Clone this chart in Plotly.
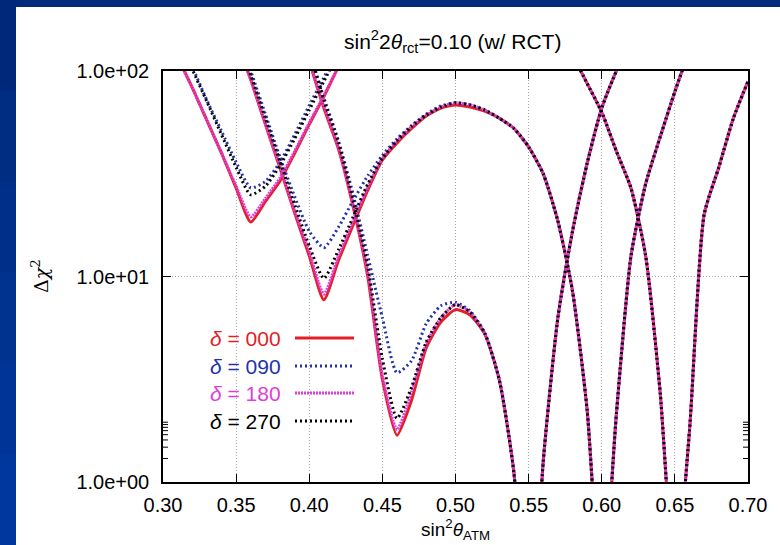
import math
import plotly.graph_objects as go

# sin^2(theta_ATM) sample points for each of the four solution branches
x_branch_a = [0.30, 0.31, 0.32, 0.33, 0.34, 0.35, 0.36, 0.37, 0.38, 0.39, 0.40, 0.41, 0.42, 0.43]
x_branch_b = [0.34, 0.35, 0.36, 0.37, 0.38, 0.39, 0.40, 0.41, 0.42, 0.43, 0.44, 0.45, 0.46, 0.47,
              0.48, 0.49, 0.50, 0.51, 0.52, 0.53, 0.54, 0.55, 0.56, 0.57, 0.58, 0.59, 0.60, 0.61,
              0.62, 0.63, 0.64, 0.65, 0.66, 0.67]
x_branch_c = [0.39, 0.40, 0.41, 0.42, 0.43, 0.44, 0.45, 0.46, 0.47, 0.48, 0.49, 0.50, 0.51, 0.52,
              0.53, 0.54, 0.55, 0.56, 0.57, 0.58, 0.59, 0.60, 0.61, 0.62]
x_branch_d = [0.57, 0.58, 0.59, 0.60, 0.61, 0.62, 0.63, 0.64, 0.65, 0.66, 0.67, 0.68, 0.69, 0.70]

# Delta chi^2 for delta = 0
chi2_000_a = [166, 117, 83, 57.5, 39.8, 26.9, 18.4, 23.2, 29.2, 39.8, 55, 75, 105, 141]
chi2_000_b = [224, 141, 90.6, 55, 33.7, 20.4, 12.6, 7.7, 12, 17.8, 26.3, 36.9, 44.7, 52.5,
              60.3, 66, 68.4, 66.8, 63.8, 58.9, 52.5, 42.7, 31.6, 18.6, 8.5, 2.24, 0.25, 2.14,
              12.6, 28.2, 47.9, 79.4, 126, 190]
chi2_000_c = [200, 112, 66, 41.7, 21.9, 10, 3.16, 1.69, 2.51, 4.5, 6.0, 6.9, 6.5, 5.25,
              3.13, 1.1, 0.1, 1.26, 6.3, 16.6, 35.5, 66, 100, 141]
chi2_000_d = [166, 120, 87, 63, 40.7, 26.9, 12.6, 2.7, 0.32, 1.78, 20, 33.9, 58.9, 89]

# Delta chi^2 for delta = 90
chi2_090_a = [219, 151, 105, 72, 51, 36, 27, 29, 36, 49, 68, 93, 129, 178]
chi2_090_b = [251, 158, 100, 61.7, 38, 24.5, 16.6, 13.8, 17.4, 23.4, 30.9, 38.9, 46.8, 54.3,
              61.7, 67.6, 70, 68.4, 64.6, 58.9, 52.5, 42.7, 31.6, 18.6, 8.5, 2.24, 0.25, 2.14,
              12.6, 28.2, 47.9, 79.4, 126, 190]
chi2_090_c = [224, 126, 74, 45.7, 25.1, 12.6, 6.3, 3.4, 3.9, 5.9, 7.2, 7.5, 6.8, 5.3,
              3.13, 1.1, 0.1, 1.26, 6.3, 16.6, 35.5, 66, 100, 141]
chi2_090_d = [166, 120, 87, 63, 40.7, 26.9, 12.6, 2.7, 0.32, 1.78, 20, 33.9, 58.9, 89]

# Delta chi^2 for delta = 180
chi2_180_a = [166, 117, 83, 57.5, 40, 27.5, 19.5, 24, 30.2, 40.7, 56, 76, 105, 141]
chi2_180_b = [224, 141, 90.6, 55.6, 34.3, 20.9, 13.2, 8.2, 12.6, 18.6, 27.2, 37.6, 45.7, 53.7,
              61, 66.8, 70, 68.4, 64.6, 58.9, 52.5, 42.7, 31.6, 18.6, 8.5, 2.24, 0.25, 2.14,
              12.6, 28.2, 47.9, 79.4, 126, 190]
chi2_180_c = [200, 112, 67.6, 42.7, 22.4, 10.5, 3.3, 1.8, 2.75, 4.7, 6.3, 7.3, 6.7, 5.3,
              3.13, 1.1, 0.1, 1.26, 6.3, 16.6, 35.5, 66, 100, 141]
chi2_180_d = [166, 120, 87, 63, 40.7, 26.9, 12.6, 2.7, 0.32, 1.78, 20, 33.9, 58.9, 89]

# Delta chi^2 for delta = 270
chi2_270_a = [214, 148, 102, 71, 49, 34, 25, 27.5, 34.7, 46.8, 64.6, 89, 123, 170]
chi2_270_b = [240, 151, 95.5, 58.9, 36.3, 22.4, 14.1, 9.8, 13.5, 19.5, 28.2, 37.6, 45.7, 53.7,
              61, 66.8, 70, 68.4, 64.6, 58.9, 52.5, 42.7, 31.6, 18.6, 8.5, 2.24, 0.25, 2.14,
              12.6, 28.2, 47.9, 79.4, 126, 190]
chi2_270_c = [224, 126, 72, 44.7, 23.4, 11.2, 3.98, 2.04, 2.9, 4.8, 6.3, 7.3, 6.7, 5.3,
              3.13, 1.1, 0.1, 1.26, 6.3, 16.6, 35.5, 66, 100, 141]
chi2_270_d = [166, 120, 87, 63, 40.7, 26.9, 12.6, 2.7, 0.32, 1.78, 20, 33.9, 58.9, 89]

delta_labels = ["000", "090", "180", "270"]
x_tick_vals = [0.30, 0.35, 0.40, 0.45, 0.50, 0.55, 0.60, 0.65, 0.70]
y_tick_vals = [1, 10, 100]
y_tick_text = ["1.0e+00", "1.0e+01", "1.0e+02"]
y_minor_vals = [2, 3, 4, 5, 6, 7, 8, 9, 20, 30, 40, 50, 60, 70, 80, 90]

series = [
    (delta_labels[0], [chi2_000_a, chi2_000_b, chi2_000_c, chi2_000_d], "#e31e26", "solid", 3),
    (delta_labels[1], [chi2_090_a, chi2_090_b, chi2_090_c, chi2_090_d], "#2233aa", "2px,3px", 3),
    (delta_labels[2], [chi2_180_a, chi2_180_b, chi2_180_c, chi2_180_d], "#e03ed8", "2px,1px", 3),
    (delta_labels[3], [chi2_270_a, chi2_270_b, chi2_270_c, chi2_270_d], "#000000", "2px,3px", 3),
]
x_branches = [x_branch_a, x_branch_b, x_branch_c, x_branch_d]

W, H = 780, 545
L, R, T, B = 163, 32, 71, 63
PW, PH = W - L - R, H - T - B


def px(xpix):
    return (xpix - L) / PW


def py(ypix):
    return (H - B - ypix) / PH


fig = go.Figure()
for label, branches, color, dash, width in series:
    xs, ys = [], []
    for xb, yb in zip(x_branches, branches):
        xs += xb + [None]
        ys += yb + [None]
    fig.add_trace(go.Scatter(
        x=xs, y=ys, mode="lines", name="δ = " + label,
        line=dict(color=color, width=width, dash=dash, shape="spline", smoothing=0.6),
        connectgaps=False, hoverinfo="skip",
    ))

font_main = "Liberation Sans, Arial, sans-serif"
axis_common = dict(
    showline=True, linecolor="black", linewidth=1.5, mirror="allticks",
    ticks="inside", tickcolor="black", ticklen=8, tickwidth=1,
    showgrid=True, gridcolor="#a8a8a8", gridwidth=1, griddash="1px,2px",
    zeroline=False, tickfont=dict(family=font_main, size=20, color="black"),
)

fig.update_xaxes(range=[0.30, 0.70], tickvals=x_tick_vals, tickformat=".2f",
                 ticklabelstandoff=4, **axis_common)
fig.update_yaxes(type="log", range=[0, 2], tickvals=y_tick_vals, ticktext=y_tick_text,
                 ticklabelstandoff=8, **axis_common)

shapes = []
# minor ticks of the log axis, on the left and right frame edges
tick_frac = 5 / PW
for v in y_minor_vals:
    for x0, x1 in ((0, tick_frac), (1 - tick_frac, 1)):
        shapes.append(dict(type="line", xref="paper", yref="y", layer="above",
                           x0=x0, x1=x1, y0=math.log10(v), y1=math.log10(v),
                           line=dict(color="black", width=1)))

# slide frame: dark band along the top and a shaded band down the left side
shapes.append(dict(type="rect", xref="paper", yref="paper", layer="above",
                   x0=px(0), x1=px(W), y0=py(7), y1=py(0),
                   fillcolor="#002a7c", line=dict(width=0)))
band_cols = ["#00287a", "#002c82", "#002f89", "#003290", "#003497", "#00379e"]
n = len(band_cols)
for i, c in enumerate(band_cols):
    shapes.append(dict(type="rect", xref="paper", yref="paper", layer="above",
                       x0=px(0), x1=px(16), y0=py(H * (i + 1) / n + 1), y1=py(H * i / n),
                       fillcolor=c, line=dict(width=0)))

annotations = []
# key: coloured labels on the left, line samples on the right
key_rows = [338, 366, 393, 421]
for (label, _, color, dash, width), yrow in zip(series, key_rows):
    annotations.append(dict(
        xref="paper", yref="paper", x=px(283), y=py(yrow), xanchor="right", yanchor="middle",
        text="<i>δ</i> = " + label, showarrow=False,
        font=dict(family=font_main, size=21, color=color),
    ))
    shapes.append(dict(type="line", xref="paper", yref="paper", layer="above",
                       x0=px(295), x1=px(354), y0=py(yrow), y1=py(yrow),
                       line=dict(color=color, width=width, dash=dash)))

annotations.append(dict(
    xref="paper", yref="paper", x=px(452), y=py(41), xanchor="center", yanchor="middle",
    text="sin<sup>2</sup>2<i>θ</i><sub>rct</sub>=0.10 (w/ RCT)", showarrow=False,
    font=dict(family=font_main, size=21, color="black"),
))
annotations.append(dict(
    xref="paper", yref="paper", x=px(455.5), y=py(529), xanchor="center", yanchor="middle",
    text="sin<sup>2</sup><i>θ</i><sub>ATM</sub>", showarrow=False,
    font=dict(family=font_main, size=19, color="black"),
))
annotations.append(dict(
    xref="paper", yref="paper", x=px(40), y=py(276), xanchor="center", yanchor="middle",
    text="Δ<i>χ</i><sup>2</sup>", showarrow=False, textangle=-90,
    font=dict(family="DejaVu Serif, serif", size=19, color="black"),
))

fig.update_layout(
    width=W, height=H, margin=dict(l=L, r=R, t=T, b=B),
    paper_bgcolor="white", plot_bgcolor="white", showlegend=False,
    shapes=shapes, annotations=annotations,
)

fig.write_html("out.html")
